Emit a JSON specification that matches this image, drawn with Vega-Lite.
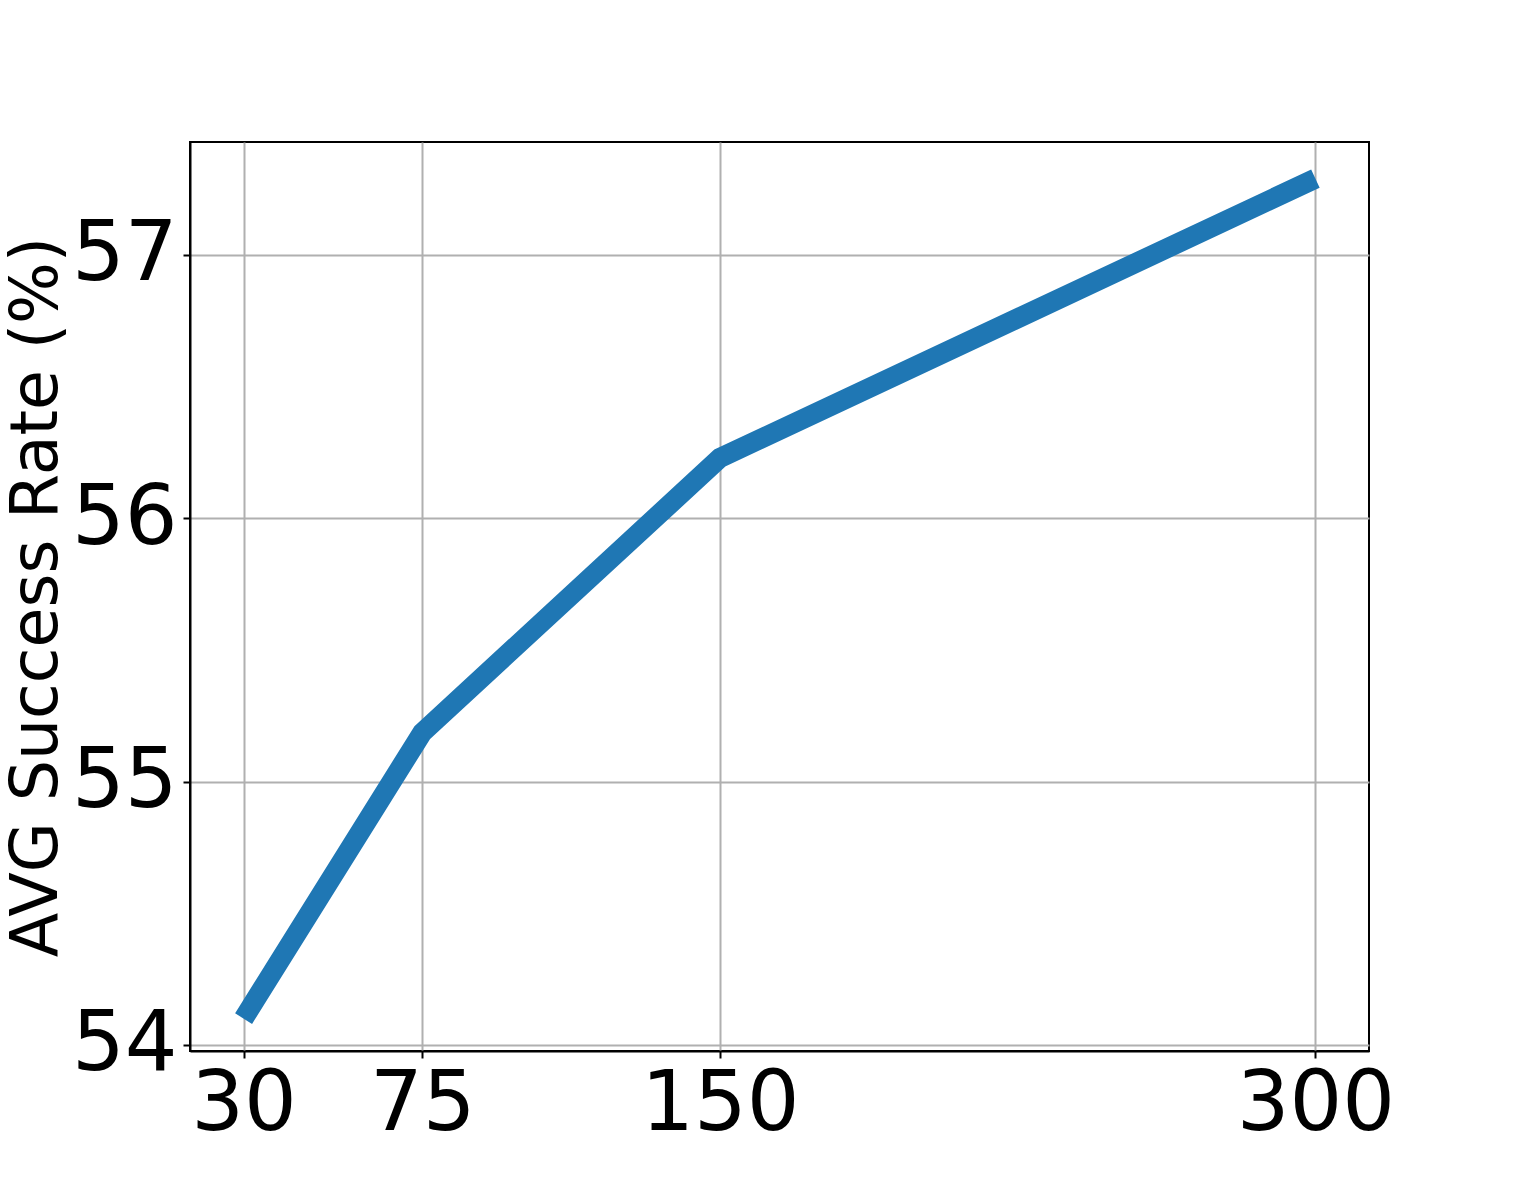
{
  "$schema": "https://vega.github.io/schema/vega-lite/v6.json",
  "background": "white",
  "autosize": {"type": "none"},
  "padding": {"left": 190, "top": 142, "right": 152, "bottom": 131},
  "width": 1179,
  "height": 909,
  "data": {
    "values": [
      {"samples": 30, "rate": 54.1},
      {"samples": 75, "rate": 55.186},
      {"samples": 150, "rate": 56.229},
      {"samples": 300, "rate": 57.29}
    ]
  },
  "mark": {
    "type": "line",
    "color": "#1f77b4",
    "strokeWidth": 20,
    "strokeCap": "butt",
    "strokeJoin": "miter",
    "clip": true
  },
  "encoding": {
    "x": {
      "field": "samples",
      "type": "quantitative",
      "scale": {"domain": [16.5, 313.5], "nice": false, "zero": false},
      "axis": {
        "values": [30, 75, 150, 300],
        "title": null,
        "labelFontSize": 83,
        "labelPadding": 5,
        "labelFlush": false
      }
    },
    "y": {
      "field": "rate",
      "type": "quantitative",
      "scale": {"domain": [53.977, 57.429], "nice": false, "zero": false},
      "axis": {
        "values": [54, 55, 56, 57],
        "title": "AVG Success Rate (%)",
        "titleFontSize": 65,
        "titleFontWeight": "normal",
        "titleAngle": -90,
        "titleAlign": "center",
        "titleBaseline": "alphabetic",
        "titleX": -134,
        "titleY": 454.5,
        "labelFontSize": 83,
        "labelPadding": 6,
        "labelFlush": false
      }
    }
  },
  "config": {
    "font": "DejaVu Sans",
    "view": {"stroke": "#000000", "strokeWidth": 2},
    "axis": {
      "labelFont": "DejaVu Sans",
      "titleFont": "DejaVu Sans",
      "labelColor": "#000000",
      "titleColor": "#000000",
      "domainColor": "#000000",
      "domainWidth": 2,
      "tickColor": "#000000",
      "tickWidth": 2,
      "tickSize": 7,
      "grid": true,
      "gridColor": "#b0b0b0",
      "gridWidth": 2
    }
  }
}
